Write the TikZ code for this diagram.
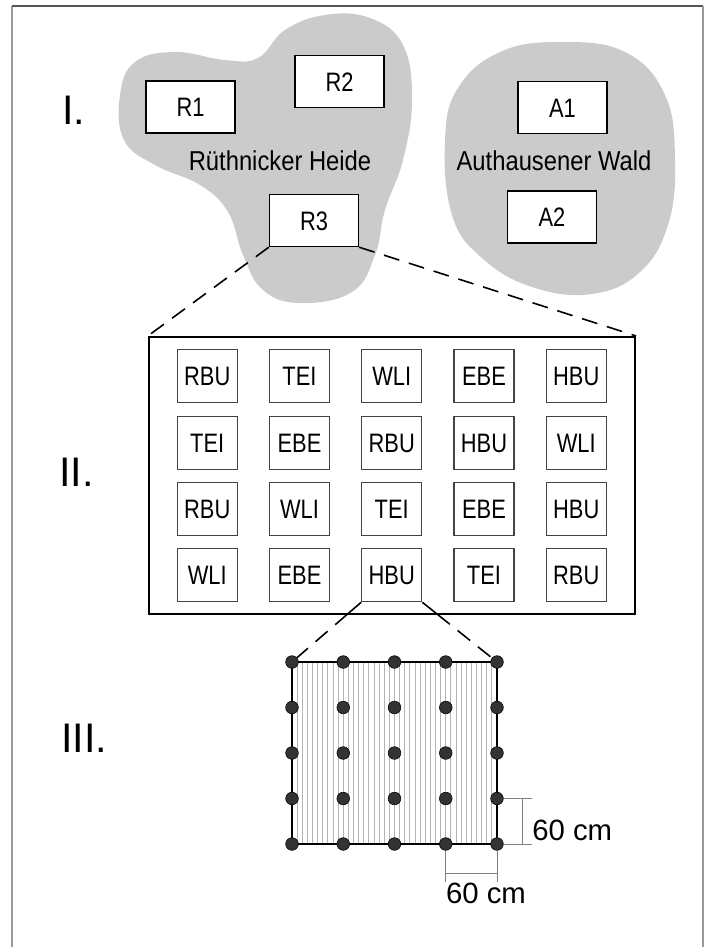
\documentclass[tikz,border=0pt]{standalone}
\usepackage{fontspec}
\setmainfont{Liberation Sans}
\usetikzlibrary{calc}
\definecolor{blobgray}{HTML}{CBCBCB}
\definecolor{boxline}{HTML}{444444}
\definecolor{hatchgray}{HTML}{B4B4B4}
\definecolor{dotgray}{HTML}{333333}
\definecolor{framegray}{HTML}{9A9A9A}
\definecolor{framedark}{HTML}{555555}
\newcommand{\cond}[1]{\scalebox{0.82}[1]{#1}}
\pgfdeclarelayer{back}
\pgfsetlayers{back,main}
\tikzset{
  site/.style={draw, line width=1.1pt, fill=white, minimum width=66.75pt,
    minimum height=39pt, inner sep=0, text height=14.5pt, text depth=0pt,
    font=\fontsize{20}{24}\selectfont},
  plotbox/.style={draw=boxline, line width=0.9pt, minimum width=45pt,
    minimum height=39.75pt, inner sep=0, text height=14.5pt, text depth=0pt,
    font=\fontsize{20}{24}\selectfont},
  area/.style={inner sep=0, text height=14.5pt, text depth=0pt,
    font=\fontsize{20.5}{24}\selectfont},
  dot/.style={circle, fill=dotgray, draw=black, line width=0.4pt,
    minimum size=9.5pt, inner sep=0},
  zoomline/.style={line width=1.2pt, dash pattern=on 12pt off 7.5pt},
  dim/.style={draw=gray, line width=0.6pt},
  level/.style={font=\fontsize{31}{34}\selectfont, anchor=west, inner sep=0},
}

\begin{document}
\begin{tikzpicture}[x=0.75pt, y=-0.75pt]
  \useasboundingbox (0,0) rectangle (712,947);
  \draw[framegray, line width=1.5pt] (12,947) -- (12,6);
  \draw[framedark, line width=1.2pt] (12,6) -- (703,6);
  \draw[framegray, line width=1.5pt] (703,6) -- (703,947);

  % I.
  \fill[blobgray] plot[smooth cycle, tension=0.7] coordinates {
    (120,95) (135,62) (175,52) (225,60) (258,58) (285,30) (325,15) (370,18)
    (403,45) (412,100) (403,160) (385,210) (375,255) (352,292) (300,303)
    (263,290) (243,255) (228,212) (200,185) (155,165) (124,140)};
  \fill[blobgray] plot[smooth cycle, tension=0.7] coordinates {
    (445,140) (458,88) (500,52) (560,42) (625,52) (665,95) (675,160)
    (668,225) (640,272) (592,294) (532,287) (482,258) (452,215)};
  \node[level] (lvl1) at (62,110) {I.};
  \node[site] (r1) at (190.5,107) {\cond{R1}};
  \node[site] (r2) at (339.5,81.5) {\cond{R2}};
  \node[site] (r3) at (314,220.5) {\cond{R3}};
  \node[site] (a1) at (562.5,107.5) {\cond{A1}};
  \node[site] (a2) at (552,217) {\cond{A2}};
  \node[area] (heide) at (280,161) {\scalebox{0.87}[1]{Rüthnicker Heide}};
  \node[area] (wald) at (554,161) {\scalebox{0.87}[1]{Authausener Wald}};

  % II.
  \node[level] (lvl2) at (59,472) {II.};
  \node[draw, line width=1.6pt, minimum width=364.5pt, minimum height=207.75pt,
    inner sep=0] (field) at (392,475.5) {};
  \draw[zoomline] (r3.south west) -- (field.north west);
  \draw[zoomline] (r3.south east) -- (field.north east);
  \foreach \row/\names in {1/{RBU,TEI,WLI,EBE,HBU}, 2/{TEI,EBE,RBU,HBU,WLI},
                           3/{RBU,WLI,TEI,EBE,HBU}, 4/{WLI,EBE,HBU,TEI,RBU}}
    \foreach \name [count=\col] in \names
      \node[plotbox] (c-\row-\col) at ({115+92.25*\col},{310+66.3*\row}) {\cond{\name}};

  % III.
  \node[level] (lvl3) at (61,738) {III.};
  \foreach \j in {1,...,5}
    \foreach \i in {1,...,5}
      \node[dot] (p-\j-\i) at ({292+51.25*(\i-1)},{662+45.5*(\j-1)}) {};
  \begin{pgfonlayer}{back}
    \foreach \k in {1,...,39}
      \draw[hatchgray, line width=0.7pt] ({292+5.125*\k},662) -- ({292+5.125*\k},844);
    \draw[line width=1pt] (p-1-1.center) rectangle (p-5-5.center);
  \end{pgfonlayer}
  \draw[line width=1.2pt] (c-4-3.south west) -- ($(c-4-3.south west)!0.2!(p-1-1)$) coordinate (hl);
  \draw[zoomline] (hl) -- (p-1-1);
  \draw[line width=1.2pt] (c-4-3.south east) -- ($(c-4-3.south east)!0.2!(p-1-5)$) coordinate (hr);
  \draw[zoomline] (hr) -- (p-1-5);

  \node[anchor=west, inner sep=0, font=\fontsize{22}{24}\selectfont] (dimv) at (532,830) {60 cm};
  \node[inner sep=0, font=\fontsize{22}{24}\selectfont] (dimh) at (486,893) {60 cm};
  \draw[dim] (p-4-5) -- (p-4-5 -| dimv.west);
  \draw[dim] (p-5-5) -- (p-5-5 -| dimv.west);
  \draw[dim] ($(p-4-5 -| dimv.west)+(-10,0)$) -- ($(p-5-5 -| dimv.west)+(-10,0)$);
  \draw[dim] (p-5-4) -- (p-5-4 |- dimh.north);
  \draw[dim] (p-5-5) -- (p-5-5 |- dimh.north);
  \draw[dim] ($(p-5-4 |- dimh.north)+(0,-9)$) -- ($(p-5-5 |- dimh.north)+(0,-9)$);
\end{tikzpicture}
\end{document}
